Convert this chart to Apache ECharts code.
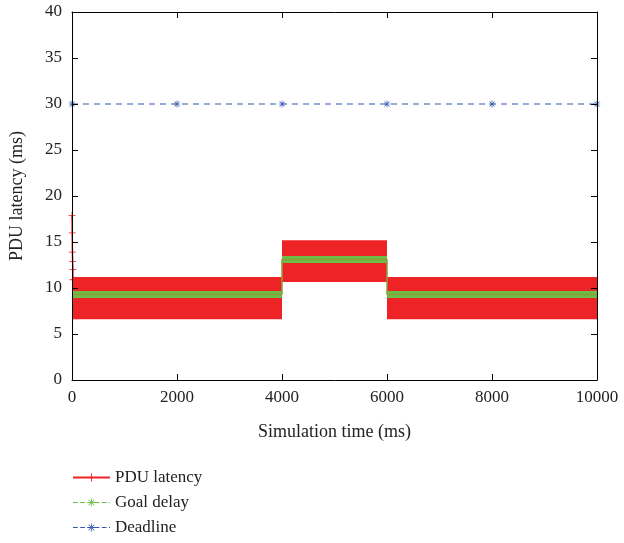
<!DOCTYPE html>
<html>
<head>
<meta charset="utf-8">
<script src="https://cdn.jsdelivr.net/npm/echarts@6/dist/echarts.min.js"></script>
<style>
	html, body { margin: 0; padding: 0; background: #fff; }
	#chart { width: 624px; height: 543px; }
</style>
</head>
<body>
<div id="chart"></div>
<script>
// latency band: one block per phase
var pduStart = [0, 4000, 6000];
var pduEnd = [4000, 6000, 10000];
var pduLow = [6.6, 10.65, 6.6];
var pduHigh = [11.2, 15.2, 11.2];
// first few samples (start-up spike)
var pduSpikeTimes = [0, 4, 8, 12, 16, 20];
var pduSpike = [17.9, 16.0, 13.9, 12.9, 12.0, 10.9];

var goalTimes = [0, 4000, 4000, 6000, 6000, 10000];
var goalDelay = [9.3, 9.3, 13.1, 13.1, 9.3, 9.3];

var deadlineTimes = [0, 2000, 4000, 6000, 8000, 10000];
var deadline = [30, 30, 30, 30, 30, 30];

var xTicks = [0, 2000, 4000, 6000, 8000, 10000];
var yTicks = [0, 5, 10, 15, 20, 25, 30, 35, 40];

var FONT = '"Liberation Serif", "DejaVu Serif", serif';
var RED = '#ee2326', GREEN = '#6cbd45', BLUE = '#3557b0';

var plusPath = 'path://M-1,-0.12L1,-0.12L1,0.12L-1,0.12Z M-0.12,-1L0.12,-1L0.12,1L-0.12,1Z';
var starPath = 'path://M-1,-0.1L1,-0.1L1,0.1L-1,0.1Z M-0.1,-1L0.1,-1L0.1,1L-0.1,1Z'
	+ ' M-0.78,-0.64L0.64,0.78L0.78,0.64L-0.64,-0.78Z M-0.78,0.64L0.64,-0.78L0.78,-0.64L-0.64,0.78Z';

function pairs(xs, ys) {
	return xs.map(function(x, i) { return [x, ys[i]]; });
}
// thick goal segments, broken between phases
function goalSegments() {
	var out = [];
	for (var i = 0; i < goalTimes.length; i += 2) {
		out.push([goalTimes[i], goalDelay[i]]);
		out.push([goalTimes[i + 1], goalDelay[i + 1]]);
		if (i + 2 < goalTimes.length) out.push([goalTimes[i + 1], '-']);
	}
	return out;
}
function plain(v) { return String(v); }

// box axis with inward ticks
function boxAxis(extra) {
	var ax = {
		type: 'value',
		z: 5,
		axisLine: { show: true, onZero: false, lineStyle: { color: '#000', width: 1 } },
		axisTick: { show: true, inside: true, length: 6, lineStyle: { color: '#000', width: 1 } },
		splitLine: { show: false }
	};
	for (var k in extra) ax[k] = extra[k];
	return ax;
}

var chart = echarts.init(document.getElementById('chart'));
var option = {
	animation: false,
	grid: { left: 72, right: 27, top: 12, bottom: 163 },
	xAxis: [
		boxAxis({
			min: xTicks[0], max: xTicks[xTicks.length - 1], interval: 2000,
			name: 'Simulation time (ms)', nameLocation: 'middle', nameGap: 43,
			nameTextStyle: { fontFamily: FONT, fontSize: 18, color: '#222' },
			axisLabel: { fontFamily: FONT, fontSize: 17, color: '#222', margin: 9, formatter: plain }
		}),
		boxAxis({
			position: 'top', min: xTicks[0], max: xTicks[xTicks.length - 1], interval: 2000,
			axisLabel: { show: false }
		})
	],
	yAxis: [
		boxAxis({
			min: yTicks[0], max: yTicks[yTicks.length - 1], interval: 5,
			name: 'PDU latency (ms)', nameLocation: 'middle', nameGap: 46,
			nameTextStyle: { fontFamily: FONT, fontSize: 18, color: '#222' },
			axisLabel: { fontFamily: FONT, fontSize: 17, color: '#222', margin: 10, formatter: plain }
		}),
		boxAxis({
			position: 'right', min: yTicks[0], max: yTicks[yTicks.length - 1], interval: 5,
			axisLabel: { show: false }
		})
	],
	legend: {
		orient: 'vertical', left: 67, top: 464, height: 100,
		itemWidth: 37, itemHeight: 10, itemGap: 8,
		textStyle: { fontFamily: FONT, fontSize: 17, color: '#222' },
		data: [
			{ name: 'PDU latency', itemStyle: { color: RED }, lineStyle: { color: RED, type: 'solid', width: 2 } },
			{ name: 'Goal delay', itemStyle: { color: GREEN }, lineStyle: { color: GREEN, type: 'dashed', width: 1.2 } },
			{ name: 'Deadline', itemStyle: { color: BLUE }, lineStyle: { color: BLUE, type: 'dashed', width: 1.2 } }
		]
	},
	series: [
		{
			name: 'PDU latency', type: 'line', z: 4,
			data: pairs(pduSpikeTimes, pduSpike),
			symbol: plusPath, symbolSize: 7, showSymbol: true,
			color: RED,
			lineStyle: { color: RED, width: 1.5 },
			itemStyle: { color: RED }
		},
		{
			name: 'PDU band', type: 'custom', z: 2,
			data: pduStart.map(function(s, i) { return [s, pduEnd[i], pduLow[i], pduHigh[i]]; }),
			encode: { x: [0, 1], y: [2, 3] },
			itemStyle: { color: RED },
			renderItem: function(params, api) {
				var p1 = api.coord([api.value(0), api.value(3)]);
				var p2 = api.coord([api.value(1), api.value(2)]);
				return {
					type: 'rect',
					shape: { x: p1[0], y: p1[1], width: p2[0] - p1[0], height: p2[1] - p1[1] },
					style: { fill: RED }
				};
			}
		},
		{
			name: 'Goal delay', type: 'line', z: 3,
			data: goalSegments(),
			symbol: starPath, symbolSize: 8, showSymbol: false,
			lineStyle: { color: GREEN, width: 7 },
			itemStyle: { color: GREEN }
		},
		{
			name: 'Goal delay', type: 'line', z: 3,
			data: pairs(goalTimes, goalDelay),
			symbol: 'none',
			lineStyle: { color: '#8aa03a', width: 1.5 },
			itemStyle: { color: GREEN }
		},
		{
			name: 'Deadline', type: 'line', z: 3,
			data: pairs(deadlineTimes, deadline),
			symbol: starPath, symbolSize: 7,
			lineStyle: { color: BLUE, width: 1.2, type: [6, 5] },
			itemStyle: { color: BLUE }
		}
	]
};
chart.setOption(option);
</script>
</body>
</html>
